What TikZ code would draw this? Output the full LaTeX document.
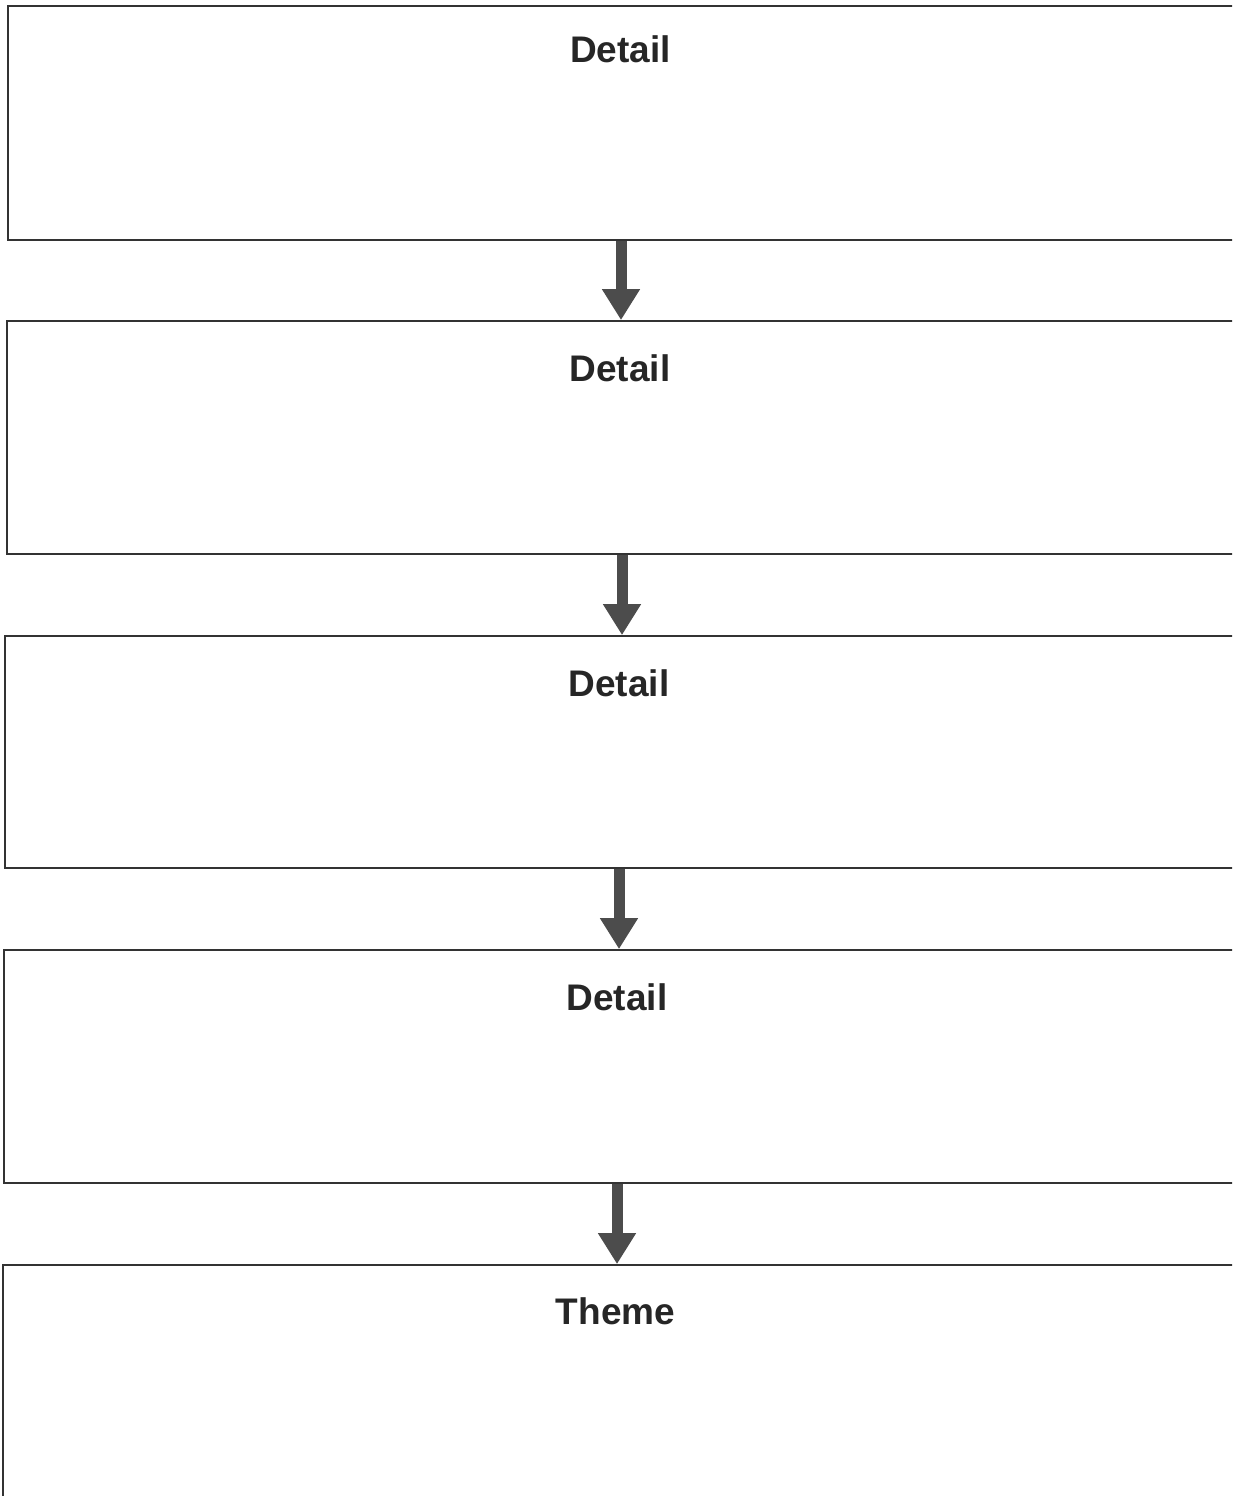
\documentclass[tikz,border=0pt]{standalone}
\usepackage{fontspec}
\setmainfont{Liberation Sans}
\usetikzlibrary{arrows.meta}

\tikzset{
  box/.style={rectangle, draw=black!80, line width=1.8pt, inner sep=0pt},
  title/.style={anchor=base, font=\bfseries\fontsize{37}{40}\selectfont, text=black!85},
  flow/.style={draw=black!70, line width=11pt,
    -{Triangle[width=36pt, length=31pt, fill=black!70]}}
}

\begin{document}
\begin{tikzpicture}[x=1pt, y=-1pt]

      \clip (0,0) rectangle (1232,1496);
      \fill[white] (0,0) rectangle (1232,1496);

      \begin{scope}[every node/.style={box, minimum height=233pt}]
        \node (b1) at (624,123)    [minimum width=1232pt, minimum height=234pt] {};
        \node (b2) at (623.5,437.5) [minimum width=1233pt] {};
        \node (b3) at (622.5,752)  [minimum width=1235pt, minimum height=232pt] {};
        \node (b4) at (622,1066.5) [minimum width=1236pt] {};
        \node (b5) at (621.5,1382.5) [minimum width=1237pt, minimum height=235pt] {};
      \end{scope}

      \begin{scope}[every node/.style={title}]
        \node (t1) at (620.5,63)  {Detail};
        \node (t2) at (620,381)   {Detail};
        \node (t3) at (619,696)   {Detail};
        \node (t4) at (617,1010)  {Detail};
        \node (t5) at (615.5,1324) {Theme};
      \end{scope}

      \path[flow] ([xshift=-3pt]b1.south) -- ([xshift=-3pt]b1.south |- b2.north);
      \path[flow] ([xshift=-1.5pt]b2.south) -- ([xshift=-1.5pt]b2.south |- b3.north);
      \path[flow] ([xshift=-3.5pt]b3.south) -- ([xshift=-3.5pt]b3.south |- b4.north);
      \path[flow] ([xshift=-5pt]b4.south) -- ([xshift=-5pt]b4.south |- b5.north);

\end{tikzpicture}
\end{document}
